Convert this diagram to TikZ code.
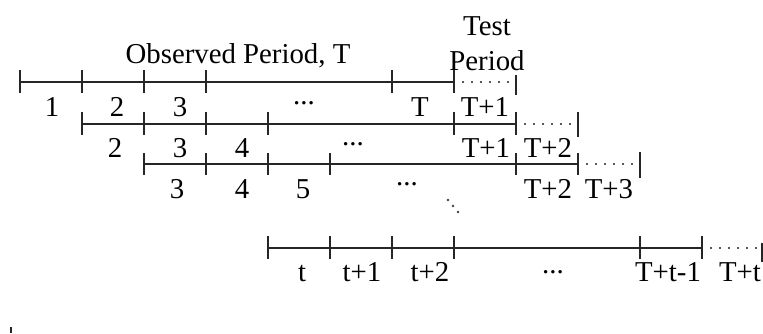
\documentclass[tikz,border=0pt]{standalone}
\usepackage{fontspec}
\setmainfont{Liberation Serif}
\begin{document}
\begin{tikzpicture}[x=1pt,y=-1pt,line width=1.5pt,
  lbl/.style={anchor=base,font=\fontsize{28.8}{31}\selectfont,inner sep=0pt},
  axis/.style={line width=1.5pt,draw=black!85},
  tk/.style={line width=1.5pt,draw=black!85},
  dotline/.style={draw=black!65,line width=1.5pt,dash pattern=on 1.5pt off 7.5pt},
  dd/.style={fill=black!75,draw=none}]
\useasboundingbox (0,0) rectangle (763,333);

% ---- row 1
\coordinate (a0) at (20,82); \coordinate (a1) at (454,82); \coordinate (a2) at (516,82);
\draw[axis] (a0) -- (a1);
\foreach \x in {20,82,144,206,392,454} \draw[tk] (\x,70) -- (\x,93);
\draw[dotline] ([xshift=8pt]a1) -- ([xshift=-6pt]a2);
\draw[tk] (516,75) -- (516,95);
\node[lbl] (l11) at (52,116) {1};
\node[lbl] (l12) at (117,116) {2};
\node[lbl] (l13) at (180,116) {3};
\node[lbl] (l14) at (304,104) {...};
\node[lbl] (l15) at (420,116) {T};
\node[lbl] (l16) at (485,116) {T+1};

% ---- row 2
\coordinate (b0) at (82,124); \coordinate (b1) at (516,124); \coordinate (b2) at (578,124);
\draw[axis] (b0) -- (b1);
\foreach \x in {82,144,206,268,454,516} \draw[tk] (\x,112) -- (\x,135);
\draw[dotline] ([xshift=8pt]b1) -- ([xshift=-6pt]b2);
\draw[tk] (578,112) -- (578,137);
\node[lbl] (l21) at (115,157) {2};
\node[lbl] (l22) at (180,157) {3};
\node[lbl] (l23) at (242,157) {4};
\node[lbl] (l24) at (353,145) {...};
\node[lbl] (l25) at (486,157) {T+1};
\node[lbl] (l26) at (548,157) {T+2};

% ---- row 3
\coordinate (c0) at (144,164); \coordinate (c1) at (578,164); \coordinate (c2) at (640,164);
\draw[axis] (c0) -- (c1);
\foreach \x in {144,206,268,330,516,578} \draw[tk] (\x,153) -- (\x,175);
\draw[dotline] ([xshift=8pt]c1) -- ([xshift=-6pt]c2);
\draw[tk] (640,152) -- (640,178);
\node[lbl] (l31) at (177,198) {3};
\node[lbl] (l32) at (242,198) {4};
\node[lbl] (l33) at (303,198) {5};
\node[lbl] (l34) at (407,185) {...};
\node[lbl] (l35) at (548,198) {T+2};
\node[lbl] (l36) at (609,198) {T+3};

% ---- vertical ellipsis
\fill[dd] (448,200) circle (1.3pt);
\fill[dd] (453,206) circle (1.3pt);
\fill[dd] (458,212) circle (1.3pt);

% ---- row 4
\coordinate (d0) at (268,248); \coordinate (d1) at (702,248); \coordinate (d2) at (763,248);
\draw[axis] (d0) -- (d1);
\foreach \x in {268,330,392,454,640,702} \draw[tk] (\x,236) -- (\x,259);
\draw[dotline] ([xshift=8pt]d1) -- ([xshift=-5pt]d2);
\draw[tk] (762,243) -- (762,262);
\node[lbl] (l41) at (302,281) {t};
\node[lbl] (l42) at (362,281) {t+1};
\node[lbl] (l43) at (430,281) {t+2};
\node[lbl] (l44) at (553,273) {...};
\node[lbl] (l45) at (668,281) {T+t-1};
\node[lbl] (l46) at (740,281) {T+t};

% ---- titles
\node[lbl] (obs) at (238,63) {Observed Period, T};
\node[lbl] (test) at (487,35) {Test};
\node[lbl] (per) at (487,70) {Period};

% stray mark
\draw[tk] (11,327) -- (11,333);
\end{tikzpicture}
\end{document}
